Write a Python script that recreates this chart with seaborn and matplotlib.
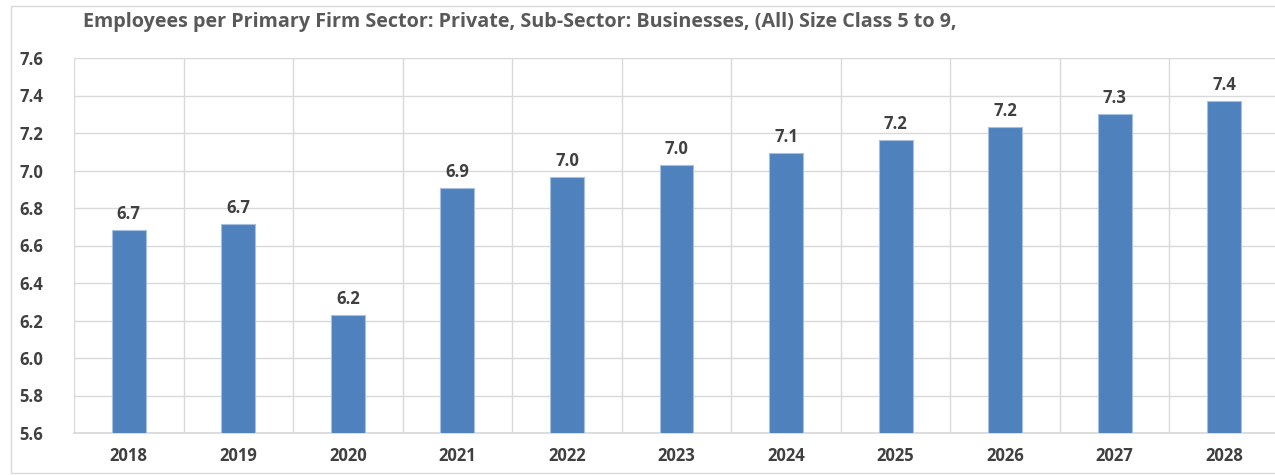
import matplotlib
matplotlib.use("Agg")
import matplotlib.pyplot as plt
import seaborn as sns
import pandas as pd
from matplotlib.patches import Rectangle

years = ["2018", "2019", "2020", "2021", "2022", "2023", "2024", "2025", "2026", "2027", "2028"]
employees = [6.685, 6.717, 6.232, 6.907, 6.963, 7.027, 7.096, 7.163, 7.232, 7.301, 7.373]
title = "Employees per Primary Firm Sector: Private, Sub-Sector: Businesses, (All) Size Class 5 to 9,"

sns.set_theme(style="white")
plt.rcParams['font.family'] = ['Open Sans', 'DejaVu Sans']

df = pd.DataFrame({"year": years, "value": employees})

fig = plt.figure(figsize=(12.75, 4.75), dpi=100)
ax = fig.add_axes([74 / 1275, 1 - 433 / 475, 1205 / 1275, 375 / 475])

sns.barplot(data=df, x="year", y="value", color="#4F81BD", width=0.31,
            edgecolor="#A7C0E0", linewidth=0.8, saturation=1, ax=ax, zorder=3)

ax.set_ylim(5.6, 7.6)
ax.set_yticks([5.6 + 0.2 * i for i in range(11)])
ax.set_yticklabels([f"{5.6 + 0.2 * i:.1f}" for i in range(11)])
ax.set_xlim(-0.5, len(years) - 0.5)
ax.set_xticks([i - 0.5 for i in range(len(years) + 1)], minor=True)

ax.grid(axis="y", which="major", color="#D9D9D9", linewidth=1, zorder=0)
ax.grid(axis="x", which="minor", color="#D9D9D9", linewidth=1, zorder=0)
ax.grid(axis="x", which="major", visible=False)
for s in ["top", "right", "left"]:
    ax.spines[s].set_visible(False)
ax.spines["bottom"].set_color("#D9D9D9")
ax.tick_params(axis="both", which="both", length=0, labelsize=12, labelcolor="#404040")
ax.tick_params(axis="x", pad=10)
ax.tick_params(axis="y", pad=22)
for lbl in ax.get_xticklabels() + ax.get_yticklabels():
    lbl.set_fontweight("bold")
ax.set_xlabel("")
ax.set_ylabel("")

for c in ax.containers:
    ax.bar_label(c, fmt="%.1f", padding=5, fontsize=12, fontweight="bold", color="#404040")

fig.text(83 / 1275, 1 - 22 / 475, title, fontsize=14.2, fontweight="bold",
         color="#595959", ha="left", va="center")

fig.patches.append(Rectangle((11 / 1275, 1 - 473 / 475), 1.0, 467 / 475,
                             transform=fig.transFigure, fill=False,
                             edgecolor="#D9D9D9", linewidth=1))

fig.savefig("out.png", dpi=100)
